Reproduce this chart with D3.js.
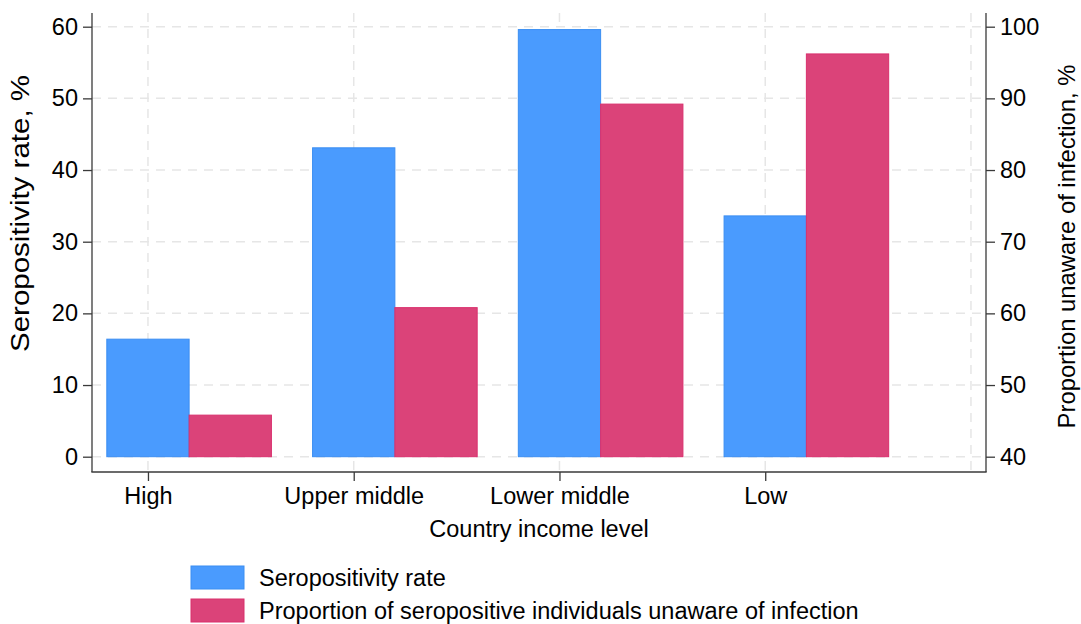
<!DOCTYPE html>
<html>
<head>
<meta charset="utf-8">
<script src="https://cdn.jsdelivr.net/npm/d3@7"></script>
<style>
  html, body { margin: 0; padding: 0; background: #fff; }
  svg { display: block; font-family: "Liberation Sans", Arial, Helvetica, sans-serif; }
</style>
</head>
<body>
<svg id="chart" width="1081" height="624"></svg>
<script>
const categories = ["High", "Upper middle", "Lower middle", "Low"];
const seropositivity = [16.4, 43.1, 59.6, 33.6];
const unaware = [45.8, 60.8, 89.2, 96.2];
const leftTicks = [0, 10, 20, 30, 40, 50, 60];
const rightTicks = [40, 50, 60, 70, 80, 90, 100];
const xGridPositions = [1, 2, 3, 4, 5];
const seriesNames = ["Seropositivity rate", "Proportion of seropositive individuals unaware of infection"];
const leftTitle = "Seropositivity rate, %";
const rightTitle = "Proportion unaware of infection, %";
const xTitle = "Country income level";

const svg = d3.select("#chart");
const plot = { left: 92, right: 986, top: 13, bottom: 472 };

const x = d3.scaleLinear().domain([0.728, 5.073]).range([plot.left, plot.right]);
const yL = d3.scaleLinear().domain([0, 60]).range([456.7, 26.7]);
const yR = d3.scaleLinear().domain([40, 100]).range([456.7, 26.7]);
const barW = x(1.4) - x(1);

const blueFill = "#4a9bfe", blueStroke = "#3b8ef2";
const redFill = "#db4379", redStroke = "#d9306d";
const gridColor = "#e6e6e6";
const axisColor = "#3a3a3a";
const fs = "23.5px";

// grid
const grid = svg.append("g");
grid.selectAll("line.h").data(leftTicks).enter().append("line")
  .attr("x1", plot.left).attr("x2", plot.right)
  .attr("y1", d => yL(d)).attr("y2", d => yL(d))
  .attr("stroke", gridColor).attr("stroke-width", 1.5).attr("stroke-dasharray", "9,7");
grid.selectAll("line.v").data(xGridPositions).enter().append("line")
  .attr("x1", d => x(d)).attr("x2", d => x(d))
  .attr("y1", plot.top).attr("y2", plot.bottom)
  .attr("stroke", gridColor).attr("stroke-width", 1.5).attr("stroke-dasharray", "9,7");

// bars
const idx = d3.range(categories.length);
svg.append("g").selectAll("rect").data(idx).enter().append("rect")
  .attr("x", i => x(i + 1) - barW / 2)
  .attr("width", barW)
  .attr("y", i => yL(seropositivity[i]))
  .attr("height", i => yL(0) - yL(seropositivity[i]))
  .attr("fill", blueFill).attr("stroke", blueStroke).attr("stroke-width", 1);
svg.append("g").selectAll("rect").data(idx).enter().append("rect")
  .attr("x", i => x(i + 1) + barW / 2)
  .attr("width", barW)
  .attr("y", i => yR(unaware[i]))
  .attr("height", i => yR(40) - yR(unaware[i]))
  .attr("fill", redFill).attr("stroke", redStroke).attr("stroke-width", 1);

// axes
const gl = svg.append("g").attr("transform", `translate(${plot.left},0)`)
  .call(d3.axisLeft(yL).tickValues(leftTicks).tickSize(9).tickPadding(5));
const gr = svg.append("g").attr("transform", `translate(${plot.right},0)`)
  .call(d3.axisRight(yR).tickValues(rightTicks).tickSize(9).tickPadding(5));
const gb = svg.append("g").attr("transform", `translate(0,${plot.bottom})`)
  .call(d3.axisBottom(x).tickValues([1, 2, 3, 4]).tickFormat(d => categories[d - 1]).tickSize(9).tickPadding(6));
[gl, gr, gb].forEach(g => {
  g.select(".domain").remove();
  g.selectAll(".tick line").attr("stroke", axisColor).attr("stroke-width", 1.3);
  g.selectAll(".tick text").attr("fill", "#000").style("font-size", fs)
    .style("font-family", '"Liberation Sans", Arial, sans-serif');
});
// axis lines
svg.append("line").attr("x1", plot.left).attr("x2", plot.left).attr("y1", plot.top).attr("y2", plot.bottom)
  .attr("stroke", axisColor).attr("stroke-width", 1.3);
svg.append("line").attr("x1", plot.right).attr("x2", plot.right).attr("y1", plot.top).attr("y2", plot.bottom)
  .attr("stroke", axisColor).attr("stroke-width", 1.3);
svg.append("line").attr("x1", plot.left - 0.65).attr("x2", plot.right + 0.65).attr("y1", plot.bottom).attr("y2", plot.bottom)
  .attr("stroke", axisColor).attr("stroke-width", 1.3);

// titles
svg.append("text").attr("transform", "translate(29,213.5) rotate(-90)")
  .attr("text-anchor", "middle").style("font-size", "25px")
  .attr("textLength", 277).attr("lengthAdjust", "spacingAndGlyphs").text(leftTitle);
svg.append("text").attr("transform", "translate(1075,246.5) rotate(-90)")
  .attr("text-anchor", "middle").style("font-size", "23.8px").text(rightTitle);
svg.append("text").attr("x", 539).attr("y", 537)
  .attr("text-anchor", "middle").style("font-size", fs).text(xTitle);

// legend
const leg = svg.append("g");
const legColors = [[blueFill, blueStroke], [redFill, redStroke]];
seriesNames.forEach((name, i) => {
  const y0 = 566 + i * 33;
  leg.append("rect").attr("x", 191).attr("y", y0).attr("width", 53).attr("height", 23)
    .attr("fill", legColors[i][0]).attr("stroke", legColors[i][1]).attr("stroke-width", 1);
  leg.append("text").attr("x", 259).attr("y", y0 + 20).style("font-size", fs).text(name);
});
</script>
</body>
</html>
